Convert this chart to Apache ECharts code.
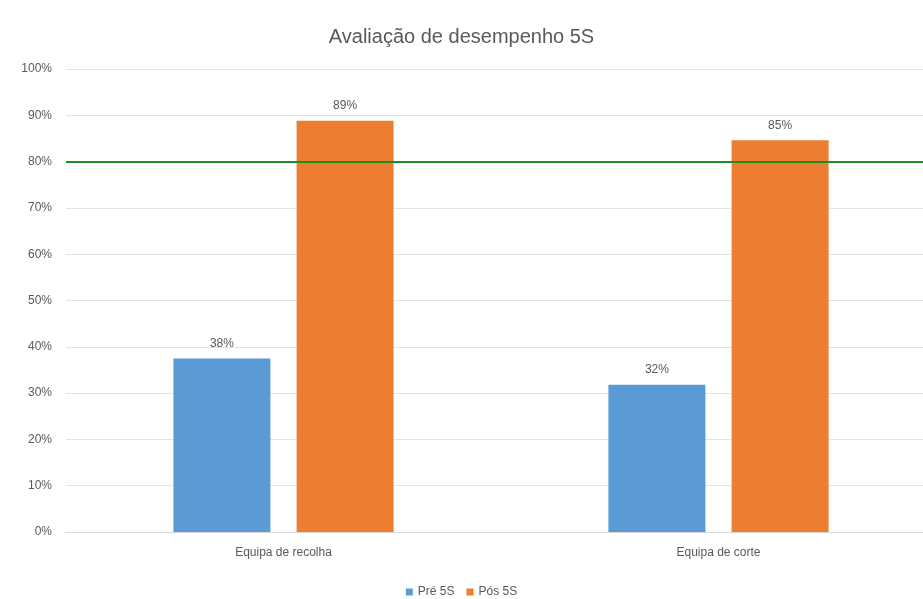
<!DOCTYPE html>
<html>
<head>
<meta charset="utf-8">
<script src="https://cdn.jsdelivr.net/npm/echarts@6/dist/echarts.min.js"></script>
<style>
  html, body { margin: 0; padding: 0; background: #fff; }
  #chart { width: 923px; height: 599px; }
</style>
</head>
<body>
<div id="chart"></div>
<script>
const categories = ['Equipa de recolha', 'Equipa de corte'];
const pre5S = [37.5, 31.8];
const pos5S = [88.8, 84.6];
const target = 80;

const font = '"Liberation Sans", Arial, sans-serif';
const grey = '#595959';

const chart = echarts.init(document.getElementById('chart'));
const pct = p => Math.round(p.value) + '%';

chart.setOption({
  animation: false,
  textStyle: { fontFamily: font },
  title: {
    text: 'Avaliação de desempenho 5S',
    left: 'center',
    top: 22,
    textStyle: { fontFamily: font, fontSize: 20, fontWeight: 'normal', color: grey }
  },
  legend: {
    top: 581,
    left: 'center',
    itemWidth: 7,
    itemHeight: 7,
    itemGap: 12,
    icon: 'rect',
    textStyle: { fontFamily: font, fontSize: 12, color: grey },
    data: ['Pré 5S', 'Pós 5S']
  },
  grid: { left: 66, width: 870, top: 69, height: 463, outerBoundsMode: 'none', containLabel: false },
  xAxis: {
    type: 'category',
    data: categories,
    axisLine: { lineStyle: { color: '#d9d9d9' } },
    axisTick: { show: false },
    axisLabel: { fontFamily: font, fontSize: 12, color: grey, margin: 15 }
  },
  yAxis: {
    type: 'value',
    min: 0,
    max: 100,
    interval: 10,
    axisLine: { show: false },
    axisTick: { show: false },
    splitLine: { lineStyle: { color: '#e3e3e3' } },
    axisLabel: { fontFamily: font, fontSize: 12, color: grey, margin: 14, formatter: '{value}%' }
  },
  series: [
    {
      name: 'Pré 5S',
      type: 'bar',
      data: pre5S,
      barWidth: 97,
      barGap: '27%',
      itemStyle: { color: '#5b9bd5' },
      label: { show: true, position: 'top', distance: 9, fontSize: 12, color: grey, formatter: pct },
      markLine: {
        silent: true,
        symbol: 'none',
        label: { show: false },
        lineStyle: { color: '#1e8c1e', width: 2, type: 'solid' },
        data: [{ yAxis: target }]
      }
    },
    {
      name: 'Pós 5S',
      type: 'bar',
      data: pos5S,
      barWidth: 97,
      itemStyle: { color: '#ed7d31' },
      label: { show: true, position: 'top', distance: 9, fontSize: 12, color: grey, formatter: pct }
    }
  ]
});
</script>
</body>
</html>
